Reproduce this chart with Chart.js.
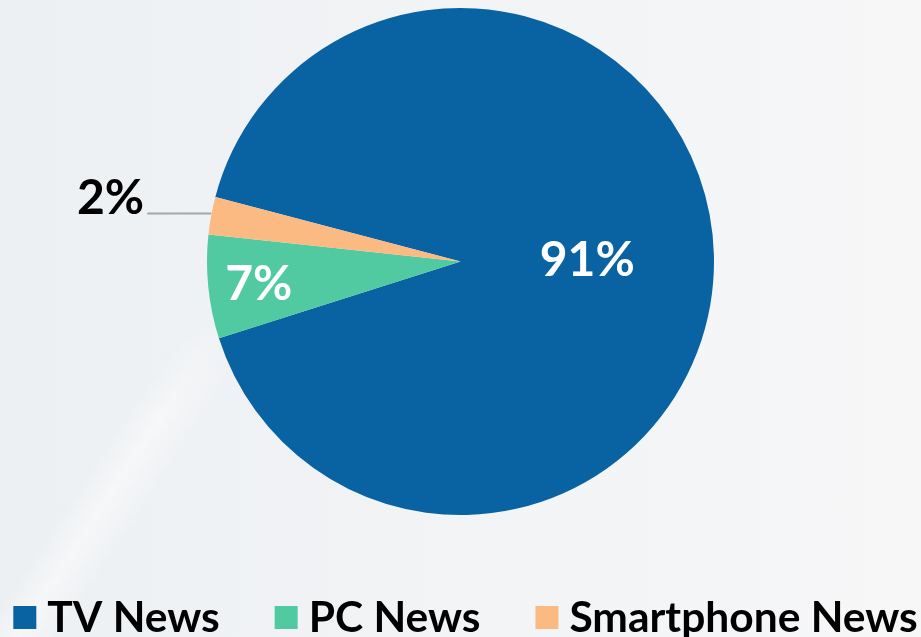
<!DOCTYPE html>
<html>
<head>
<meta charset="utf-8">
<title>News source share</title>
<script src="https://cdn.jsdelivr.net/npm/chart.js@4.4.1/dist/chart.umd.min.js"></script>
<style>
    html, body { margin: 0; padding: 0; width: 921px; height: 637px; overflow: hidden; }
    body {
        position: relative;
        background: linear-gradient(90deg, #edf0f3 0%, #f1f3f5 45%, #f7f7f8 100%);
    }
    /* faint diagonal light streak in the lower-left corner */
    #streak {
        position: absolute; left: 0; top: 0; width: 921px; height: 637px;
        background: linear-gradient(123deg, rgba(255,255,255,0) 0px, rgba(255,255,255,0) 330px,
            rgba(255,255,255,0.45) 362px, rgba(255,255,255,0) 400px, rgba(255,255,255,0) 100%);
        -webkit-mask-image: linear-gradient(to top, #000 0%, #000 35%, transparent 52%);
        mask-image: linear-gradient(to top, #000 0%, #000 35%, transparent 52%);
    }
    .chart-box { position: absolute; left: 0; top: 0; width: 921px; height: 637px; }
</style>
</head>
<body>
<div id="streak"></div>
<div class="chart-box"><canvas id="newsChart"></canvas></div>
<script>
// Chart data
const categories = ['TV News', 'PC News', 'Smartphone News'];
const shareValues = [91.0, 6.6, 2.4];
const sliceColors = ['#0963a3', '#51c9a1', '#fbba82'];

const FONT = 'Lato, "Noto Sans", sans-serif';

// Percent labels: inside for big slices, outside with a leader line for tiny ones
const pctLabels = {
    id: 'pctLabels',
    afterDatasetsDraw(chart) {
        const ctx = chart.ctx;
        const meta = chart.getDatasetMeta(0);
        ctx.save();
        ctx.font = 'bold 48px ' + FONT;
        meta.data.forEach((arc, i) => {
            const text = Math.round(shareValues[i]) + '%';
            const mid = (arc.startAngle + arc.endAngle) / 2;
            if (shareValues[i] < 5) {
                const ex = arc.x + arc.outerRadius * Math.cos(mid);
                const ey = arc.y + arc.outerRadius * Math.sin(mid) - 2;
                ctx.strokeStyle = '#a6a6a6';
                ctx.lineWidth = 2;
                ctx.beginPath();
                ctx.moveTo(ex, ey);
                ctx.lineTo(ex - 64, ey);
                ctx.stroke();
                ctx.fillStyle = '#000';
                ctx.textAlign = 'right';
                ctx.textBaseline = 'alphabetic';
                ctx.fillText(text, ex - 67, ey);
            } else {
                const f = shareValues[i] > 50 ? 0.5 : 0.8;
                const r = arc.outerRadius * f;
                ctx.fillStyle = '#fff';
                ctx.textAlign = 'center';
                ctx.textBaseline = 'alphabetic';
                ctx.fillText(text, arc.x + r * Math.cos(mid), arc.y + r * Math.sin(mid) + 18);
            }
        });
        ctx.restore();
    }
};

// Legend along the bottom edge
const bottomLegend = {
    id: 'bottomLegend',
    afterDraw(chart) {
        const ctx = chart.ctx;
        const box = 23, gap = 11, spacing = 55, baseline = 632;
        ctx.save();
        ctx.font = 'bold 42.5px ' + FONT;
        const widths = chart.data.labels.map(l => box + gap + ctx.measureText(l).width);
        const total = widths.reduce((a, b) => a + b, 0) + spacing * (widths.length - 1);
        let x = (chart.width - total) / 2 + 5;
        chart.data.labels.forEach((label, i) => {
            ctx.fillStyle = chart.data.datasets[0].backgroundColor[i];
            ctx.fillRect(x, baseline - 26, box, box);
            ctx.fillStyle = '#000';
            ctx.textAlign = 'left';
            ctx.textBaseline = 'alphabetic';
            ctx.fillText(label, x + box + gap, baseline);
            x += widths[i] + spacing;
        });
        ctx.restore();
    }
};

new Chart(document.getElementById('newsChart'), {
    type: 'pie',
    data: {
        labels: categories,
        datasets: [{
            data: shareValues,
            backgroundColor: sliceColors,
            borderWidth: 0
        }]
    },
    options: {
        responsive: true,
        maintainAspectRatio: false,
        animation: false,
        rotation: 284.75,
        layout: { padding: { top: 8, bottom: 122, left: 0, right: 0 } },
        plugins: {
            legend: { display: false },
            tooltip: { enabled: false }
        }
    },
    plugins: [pctLabels, bottomLegend]
});
</script>
</body>
</html>
